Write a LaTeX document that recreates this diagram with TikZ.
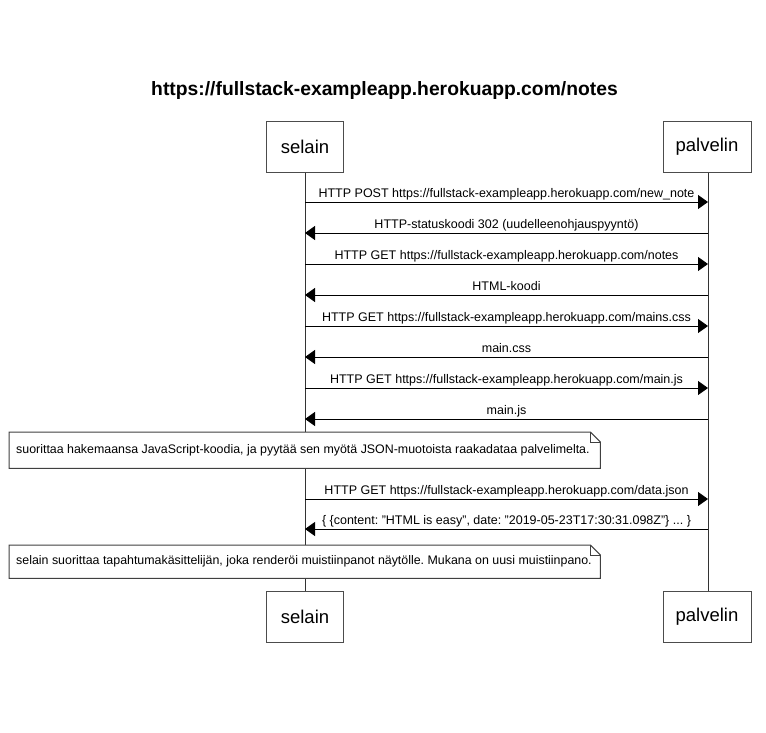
\documentclass[tikz,border=0pt]{standalone}
\usepackage{fontspec}
\setmainfont{Liberation Sans}
\usetikzlibrary{arrows.meta}
\frenchspacing
\begin{document}
\begin{tikzpicture}[x=1pt,y=-1pt,
  actor/.style={draw=black!70, line width=1pt, fill=white, inner sep=0pt,
    minimum height=51pt, font=\fontsize{18.5}{22}\selectfont},
  lifeline/.style={draw=black!80, line width=1pt},
  msg/.style={draw=black, line width=1pt, -{Triangle[length=10pt,width=14pt]}},
  lab/.style={midway, anchor=base, yshift=4.5pt, inner sep=0pt, font=\fontsize{12.5}{15}\selectfont},
  notebox/.style={fill=white, draw=none, anchor=north west, inner xsep=7pt, inner ysep=0pt,
    minimum width=591pt, font=\fontsize{12.4}{15}\selectfont},
  noteline/.style={draw=black!75, line width=1pt}
]
\useasboundingbox (0,0) rectangle (766,732);
\node[font=\bfseries\fontsize{19.3}{23}\selectfont] (title) at (384.5,90.5) {https://fullstack-exampleapp.herokuapp.com/notes};

% actors
\node[actor, minimum width=77pt] (sTop) at (305,146.5) {selain};
\node[actor, minimum width=88pt] (pTop) at (707,146.5) {palvelin};
\node[actor, minimum width=77pt] (sBot) at (305,616.5) {selain};
\node[actor, minimum width=88pt] (pBot) at (707,616.5) {palvelin};

% lifelines
\draw[lifeline] (sTop.south) -- (sBot.north);
\draw[lifeline] ([xshift=1pt]pTop.south) -- ([xshift=1pt]pBot.north);

% message end points
\foreach \i/\y in {1/202,2/233,3/264,4/295,5/326,6/357,7/388,8/419,9/499,10/529}{
  \coordinate (s\i) at (305,\y);
  \coordinate (p\i) at (708,\y);
}

\draw[msg] (s1) -- (p1) node[lab] {HTTP POST https://fullstack-exampleapp.herokuapp.com/new\_note};
\draw[msg] (p2) -- (s2) node[lab] {HTTP-statuskoodi 302 (uudelleenohjauspyyntö)};
\draw[msg] (s3) -- (p3) node[lab] {HTTP GET https://fullstack-exampleapp.herokuapp.com/notes};
\draw[msg] (p4) -- (s4) node[lab] {HTML-koodi};
\draw[msg] (s5) -- (p5) node[lab] {HTTP GET https://fullstack-exampleapp.herokuapp.com/mains.css};
\draw[msg] (p6) -- (s6) node[lab] {main.css};
\draw[msg] (s7) -- (p7) node[lab] {HTTP GET https://fullstack-exampleapp.herokuapp.com/main.js};
\draw[msg] (p8) -- (s8) node[lab] {main.js};
\draw[msg] (s9) -- (p9) node[lab] {HTTP GET https://fullstack-exampleapp.herokuapp.com/data.json};
\draw[msg] (p10) -- (s10) node[lab] {\{ \{content: "HTML is easy", date: "2019-05-23T17:30:31.098Z"\} ... \}};

% notes
\node[notebox, minimum height=36pt] (n1) at (9,432) {\makebox[577pt][l]{suorittaa hakemaansa JavaScript-koodia, ja pyytää sen myötä JSON-muotoista raakadataa palvelimelta.}};
\draw[noteline] (n1.north west) -- ([xshift=-10pt]n1.north east) -- ([yshift=-10pt]n1.north east) -- (n1.south east) -- (n1.south west) -- cycle;
\draw[noteline] ([xshift=-10pt]n1.north east) -- ([xshift=-10pt,yshift=-10pt]n1.north east) -- ([yshift=-10pt]n1.north east);

\node[notebox, minimum height=33pt] (n2) at (9,545) {\makebox[577pt][l]{selain suorittaa tapahtumakäsittelijän, joka renderöi muistiinpanot näytölle. Mukana on uusi muistiinpano.}};
\draw[noteline] (n2.north west) -- ([xshift=-10pt]n2.north east) -- ([yshift=-10pt]n2.north east) -- (n2.south east) -- (n2.south west) -- cycle;
\draw[noteline] ([xshift=-10pt]n2.north east) -- ([xshift=-10pt,yshift=-10pt]n2.north east) -- ([yshift=-10pt]n2.north east);
\end{tikzpicture}
\end{document}
